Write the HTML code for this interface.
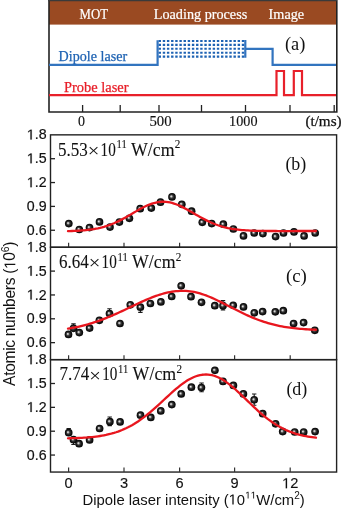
<!DOCTYPE html>
<html><head><meta charset="utf-8"><style>
html,body{margin:0;padding:0;background:#fff;}
body{width:342px;height:508px;overflow:hidden;font-family:"Liberation Sans",sans-serif;}
svg{display:block;will-change:transform;}
</style></head><body>
<svg width="342" height="508" viewBox="0 0 342 508">
<rect x="49" y="1" width="287.5" height="23.6" fill="#9a4a22"/>
<path d="M49.0 0 V112.0 H336.8 V0" fill="none" stroke="#222" stroke-width="1.6"/>
<line x1="48" y1="0.6" x2="337" y2="0.6" stroke="#3a3a3a" stroke-width="1.3"/>
<line x1="82.6" y1="112.0" x2="82.6" y2="105.0" stroke="#222" stroke-width="1.3"/>
<line x1="120.2" y1="112.0" x2="120.2" y2="105.0" stroke="#222" stroke-width="1.3"/>
<line x1="159.0" y1="112.0" x2="159.0" y2="105.0" stroke="#222" stroke-width="1.3"/>
<line x1="201.5" y1="112.0" x2="201.5" y2="105.0" stroke="#222" stroke-width="1.3"/>
<line x1="245.5" y1="112.0" x2="245.5" y2="105.0" stroke="#222" stroke-width="1.3"/>
<line x1="290.0" y1="112.0" x2="290.0" y2="105.0" stroke="#222" stroke-width="1.3"/>
<line x1="334.2" y1="112.0" x2="334.2" y2="105.0" stroke="#222" stroke-width="1.3"/>
<g font-family="Liberation Serif" font-size="14.6" fill="#fff" stroke="#fff" stroke-width="0.2"><text x="79.6" y="19.2" textLength="28.4" lengthAdjust="spacingAndGlyphs">MOT</text><text x="153.8" y="19.2" textLength="93.4" lengthAdjust="spacingAndGlyphs">Loading process</text><text x="268.6" y="19.2" textLength="35.6" lengthAdjust="spacingAndGlyphs">Image</text></g>
<path d="M49 64.8 H157.6 V40.2 M245.3 40 V57.8 M245.3 48.8 H272.6 V64.8 H336" fill="none" stroke="#3274bf" stroke-width="2.2"/>
<path d="M158.60 39.95h2.4v2.1h-2.4zM162.76 39.95h2.4v2.1h-2.4zM166.92 39.95h2.4v2.1h-2.4zM171.08 39.95h2.4v2.1h-2.4zM175.24 39.95h2.4v2.1h-2.4zM179.40 39.95h2.4v2.1h-2.4zM183.56 39.95h2.4v2.1h-2.4zM187.72 39.95h2.4v2.1h-2.4zM191.88 39.95h2.4v2.1h-2.4zM196.04 39.95h2.4v2.1h-2.4zM200.20 39.95h2.4v2.1h-2.4zM204.36 39.95h2.4v2.1h-2.4zM208.52 39.95h2.4v2.1h-2.4zM212.68 39.95h2.4v2.1h-2.4zM216.84 39.95h2.4v2.1h-2.4zM221.00 39.95h2.4v2.1h-2.4zM225.16 39.95h2.4v2.1h-2.4zM229.32 39.95h2.4v2.1h-2.4zM233.48 39.95h2.4v2.1h-2.4zM237.64 39.95h2.4v2.1h-2.4zM241.80 39.95h2.4v2.1h-2.4zM158.60 43.85h2.4v2.1h-2.4zM162.76 43.85h2.4v2.1h-2.4zM166.92 43.85h2.4v2.1h-2.4zM171.08 43.85h2.4v2.1h-2.4zM175.24 43.85h2.4v2.1h-2.4zM179.40 43.85h2.4v2.1h-2.4zM183.56 43.85h2.4v2.1h-2.4zM187.72 43.85h2.4v2.1h-2.4zM191.88 43.85h2.4v2.1h-2.4zM196.04 43.85h2.4v2.1h-2.4zM200.20 43.85h2.4v2.1h-2.4zM204.36 43.85h2.4v2.1h-2.4zM208.52 43.85h2.4v2.1h-2.4zM212.68 43.85h2.4v2.1h-2.4zM216.84 43.85h2.4v2.1h-2.4zM221.00 43.85h2.4v2.1h-2.4zM225.16 43.85h2.4v2.1h-2.4zM229.32 43.85h2.4v2.1h-2.4zM233.48 43.85h2.4v2.1h-2.4zM237.64 43.85h2.4v2.1h-2.4zM241.80 43.85h2.4v2.1h-2.4zM158.60 47.75h2.4v2.1h-2.4zM162.76 47.75h2.4v2.1h-2.4zM166.92 47.75h2.4v2.1h-2.4zM171.08 47.75h2.4v2.1h-2.4zM175.24 47.75h2.4v2.1h-2.4zM179.40 47.75h2.4v2.1h-2.4zM183.56 47.75h2.4v2.1h-2.4zM187.72 47.75h2.4v2.1h-2.4zM191.88 47.75h2.4v2.1h-2.4zM196.04 47.75h2.4v2.1h-2.4zM200.20 47.75h2.4v2.1h-2.4zM204.36 47.75h2.4v2.1h-2.4zM208.52 47.75h2.4v2.1h-2.4zM212.68 47.75h2.4v2.1h-2.4zM216.84 47.75h2.4v2.1h-2.4zM221.00 47.75h2.4v2.1h-2.4zM225.16 47.75h2.4v2.1h-2.4zM229.32 47.75h2.4v2.1h-2.4zM233.48 47.75h2.4v2.1h-2.4zM237.64 47.75h2.4v2.1h-2.4zM241.80 47.75h2.4v2.1h-2.4zM158.60 51.65h2.4v2.1h-2.4zM162.76 51.65h2.4v2.1h-2.4zM166.92 51.65h2.4v2.1h-2.4zM171.08 51.65h2.4v2.1h-2.4zM175.24 51.65h2.4v2.1h-2.4zM179.40 51.65h2.4v2.1h-2.4zM183.56 51.65h2.4v2.1h-2.4zM187.72 51.65h2.4v2.1h-2.4zM191.88 51.65h2.4v2.1h-2.4zM196.04 51.65h2.4v2.1h-2.4zM200.20 51.65h2.4v2.1h-2.4zM204.36 51.65h2.4v2.1h-2.4zM208.52 51.65h2.4v2.1h-2.4zM212.68 51.65h2.4v2.1h-2.4zM216.84 51.65h2.4v2.1h-2.4zM221.00 51.65h2.4v2.1h-2.4zM225.16 51.65h2.4v2.1h-2.4zM229.32 51.65h2.4v2.1h-2.4zM233.48 51.65h2.4v2.1h-2.4zM237.64 51.65h2.4v2.1h-2.4zM241.80 51.65h2.4v2.1h-2.4zM158.60 55.55h2.4v2.1h-2.4zM162.76 55.55h2.4v2.1h-2.4zM166.92 55.55h2.4v2.1h-2.4zM171.08 55.55h2.4v2.1h-2.4zM175.24 55.55h2.4v2.1h-2.4zM179.40 55.55h2.4v2.1h-2.4zM183.56 55.55h2.4v2.1h-2.4zM187.72 55.55h2.4v2.1h-2.4zM191.88 55.55h2.4v2.1h-2.4zM196.04 55.55h2.4v2.1h-2.4zM200.20 55.55h2.4v2.1h-2.4zM204.36 55.55h2.4v2.1h-2.4zM208.52 55.55h2.4v2.1h-2.4zM212.68 55.55h2.4v2.1h-2.4zM216.84 55.55h2.4v2.1h-2.4zM221.00 55.55h2.4v2.1h-2.4zM225.16 55.55h2.4v2.1h-2.4zM229.32 55.55h2.4v2.1h-2.4zM233.48 55.55h2.4v2.1h-2.4zM237.64 55.55h2.4v2.1h-2.4zM241.80 55.55h2.4v2.1h-2.4z" fill="#1d62b3"/>
<path d="M49 95.1 H276.5 V71 H284 V95.1 H293.8 V71 H302 V95.1 H336" fill="none" stroke="#e8202a" stroke-width="2.2"/>
<text x="58.6" y="60.6" font-family="Liberation Serif" font-size="14" fill="#1f63b3" stroke="#1f63b3" stroke-width="0.25" textLength="68.5" lengthAdjust="spacingAndGlyphs">Dipole laser</text>
<text x="64" y="91.9" font-family="Liberation Serif" font-size="14" fill="#e8202a" stroke="#e8202a" stroke-width="0.25" textLength="64.5" lengthAdjust="spacingAndGlyphs">Probe laser</text>
<text x="284.9" y="49.7" font-family="Liberation Serif" font-size="19.4" fill="#111" textLength="20.4" lengthAdjust="spacingAndGlyphs">(a)</text>
<g font-family="Liberation Serif" font-size="14.4" fill="#111" stroke="#111" stroke-width="0.15" text-anchor="middle"><text x="81.5" y="125.6" textLength="7.0" lengthAdjust="spacingAndGlyphs">0</text><text x="160.5" y="125.6" textLength="22.2" lengthAdjust="spacingAndGlyphs">500</text><text x="243.3" y="125.6" textLength="28.4" lengthAdjust="spacingAndGlyphs">1000</text></g>
<text x="305.4" y="125.6" font-family="Liberation Serif" font-size="14" fill="#111" stroke="#111" stroke-width="0.25" textLength="36.2" lengthAdjust="spacingAndGlyphs">(t/ms)</text>
<defs><radialGradient id="ball" cx="0.5" cy="0.5" r="0.5" fx="0.38" fy="0.42"><stop offset="0" stop-color="#f4f4f4"/><stop offset="0.18" stop-color="#b8b8b8"/><stop offset="0.42" stop-color="#3c3c3c"/><stop offset="0.72" stop-color="#141414"/><stop offset="1" stop-color="#050505"/></radialGradient></defs>
<rect x="50.5" y="134.85" width="286.1" height="112.4" fill="none" stroke="#222" stroke-width="1.4"/>
<line x1="50.5" y1="158.70" x2="55.0" y2="158.70" stroke="#222" stroke-width="1.3"/>
<line x1="50.5" y1="182.55" x2="55.0" y2="182.55" stroke="#222" stroke-width="1.3"/>
<line x1="50.5" y1="206.40" x2="55.0" y2="206.40" stroke="#222" stroke-width="1.3"/>
<line x1="50.5" y1="230.25" x2="55.0" y2="230.25" stroke="#222" stroke-width="1.3"/>
<line x1="68.6" y1="247.25" x2="68.6" y2="242.75" stroke="#333" stroke-width="1.2"/>
<line x1="124.0" y1="247.25" x2="124.0" y2="242.75" stroke="#333" stroke-width="1.2"/>
<line x1="179.6" y1="247.25" x2="179.6" y2="242.75" stroke="#333" stroke-width="1.2"/>
<line x1="234.6" y1="247.25" x2="234.6" y2="242.75" stroke="#333" stroke-width="1.2"/>
<line x1="290.2" y1="247.25" x2="290.2" y2="242.75" stroke="#333" stroke-width="1.2"/>
<g font-family="Liberation Sans" font-size="14.2" fill="#111" stroke="#111" stroke-width="0.2" text-anchor="end">
<text class="s1" x="46.6" y="139.45"> .8</text>
<text class="s1" x="46.6" y="163.30"> .5</text>
<text class="s1" x="46.6" y="187.15"> .2</text>
<text class="s1" x="46.6" y="211.00">0.9</text>
<text class="s1" x="46.6" y="234.85">0.6</text>
</g>
<circle cx="68.8" cy="223.6" r="3.85" fill="url(#ball)"/>
<circle cx="79.3" cy="229.5" r="3.85" fill="url(#ball)"/>
<circle cx="89.5" cy="227.6" r="3.85" fill="url(#ball)"/>
<circle cx="99.5" cy="221.9" r="3.85" fill="url(#ball)"/>
<circle cx="110.0" cy="227.1" r="3.85" fill="url(#ball)"/>
<circle cx="119.4" cy="222.1" r="3.85" fill="url(#ball)"/>
<circle cx="129.4" cy="218.3" r="3.85" fill="url(#ball)"/>
<circle cx="140.2" cy="208.7" r="3.85" fill="url(#ball)"/>
<circle cx="151.3" cy="208.1" r="3.85" fill="url(#ball)"/>
<circle cx="160.5" cy="202.2" r="3.85" fill="url(#ball)"/>
<circle cx="172.0" cy="196.9" r="3.85" fill="url(#ball)"/>
<circle cx="181.8" cy="204.3" r="3.85" fill="url(#ball)"/>
<circle cx="191.6" cy="211.2" r="3.85" fill="url(#ball)"/>
<circle cx="202.3" cy="222.3" r="3.85" fill="url(#ball)"/>
<circle cx="211.7" cy="223.6" r="3.85" fill="url(#ball)"/>
<circle cx="223.3" cy="224.2" r="3.85" fill="url(#ball)"/>
<circle cx="233.4" cy="229.0" r="3.85" fill="url(#ball)"/>
<circle cx="243.5" cy="235.9" r="3.85" fill="url(#ball)"/>
<circle cx="254.2" cy="233.0" r="3.85" fill="url(#ball)"/>
<circle cx="262.9" cy="233.6" r="3.85" fill="url(#ball)"/>
<circle cx="275.6" cy="236.6" r="3.85" fill="url(#ball)"/>
<circle cx="283.5" cy="233.0" r="3.85" fill="url(#ball)"/>
<circle cx="294.0" cy="231.9" r="3.85" fill="url(#ball)"/>
<circle cx="304.1" cy="235.9" r="3.85" fill="url(#ball)"/>
<circle cx="315.2" cy="233.0" r="3.85" fill="url(#ball)"/>
<path d="M68.0 231.12 L70.0 231.06 L72.0 231.00 L74.0 230.92 L76.0 230.84 L78.0 230.73 L80.0 230.61 L82.0 230.47 L84.0 230.30 L86.0 230.11 L88.0 229.90 L90.0 229.65 L92.0 229.36 L94.0 229.04 L96.0 228.68 L98.0 228.28 L100.0 227.83 L102.0 227.33 L104.0 226.78 L106.0 226.18 L108.0 225.52 L110.0 224.81 L112.0 224.04 L114.0 223.21 L116.0 222.32 L118.0 221.39 L120.0 220.40 L122.0 219.37 L124.0 218.29 L126.0 217.18 L128.0 216.05 L130.0 214.88 L132.0 213.71 L134.0 212.54 L136.0 211.37 L138.0 210.22 L140.0 209.10 L142.0 208.02 L144.0 206.99 L146.0 206.03 L148.0 205.14 L150.0 204.33 L152.0 203.62 L154.0 203.02 L156.0 202.52 L158.0 202.14 L160.0 201.88 L162.0 201.75 L164.0 201.74 L166.0 201.86 L168.0 202.11 L170.0 202.47 L172.0 202.95 L174.0 203.54 L176.0 204.24 L178.0 205.02 L180.0 205.90 L182.0 206.85 L184.0 207.86 L186.0 208.92 L188.0 210.03 L190.0 211.17 L192.0 212.32 L194.0 213.49 L196.0 214.65 L198.0 215.80 L200.0 216.94 L202.0 218.04 L204.0 219.11 L206.0 220.14 L208.0 221.12 L210.0 222.06 L212.0 222.94 L214.0 223.77 L216.0 224.54 L218.0 225.25 L220.0 225.91 L222.0 226.52 L224.0 227.07 L226.0 227.57 L228.0 228.02 L230.0 228.42 L232.0 228.79 L234.0 229.11 L236.0 229.39 L238.0 229.64 L240.0 229.85 L242.0 230.04 L244.0 230.21 L246.0 230.35 L248.0 230.47 L250.0 230.57 L252.0 230.66 L254.0 230.73 L256.0 230.79 L258.0 230.84 L260.0 230.88 L262.0 230.92 L264.0 230.94 L266.0 230.97 L268.0 230.98 L270.0 231.00 L272.0 231.01 L274.0 231.02 L276.0 231.02 L278.0 231.03 L280.0 231.03 L282.0 231.03 L284.0 231.03 L286.0 231.03 L288.0 231.03 L290.0 231.03 L292.0 231.03 L294.0 231.03 L296.0 231.02 L298.0 231.02 L300.0 231.02 L302.0 231.02 L304.0 231.01 L306.0 231.01 L308.0 231.01 L310.0 231.01 L312.0 231.00 L314.0 231.00 L316.0 231.00" fill="none" stroke="#e8161e" stroke-width="2.3" stroke-linecap="round" stroke-linejoin="round"/>
<g font-family="Liberation Serif" fill="#111" stroke="#111" stroke-width="0.1"><text x="58.0" y="155.50" font-size="18.3" textLength="29.8" lengthAdjust="spacingAndGlyphs">5.53</text><text x="87.7" y="156.80" font-size="19" textLength="11.6" lengthAdjust="spacingAndGlyphs" stroke-width="0">×</text><text x="100.6" y="155.50" font-size="18.3" textLength="15.2" lengthAdjust="spacingAndGlyphs">10</text><text x="116.5" y="148.20" font-size="12.4" textLength="10.2" lengthAdjust="spacingAndGlyphs">11</text><text x="131.0" y="155.50" font-size="18.3" textLength="43.6" lengthAdjust="spacingAndGlyphs">W/cm</text><text x="174.8" y="148.20" font-size="12.4" textLength="5.6" lengthAdjust="spacingAndGlyphs">2</text></g>
<text x="285.4" y="170.1" font-family="Liberation Serif" font-size="19.4" fill="#111" textLength="20.9" lengthAdjust="spacingAndGlyphs">(b)</text>
<rect x="50.5" y="247.25" width="286.1" height="112.4" fill="none" stroke="#222" stroke-width="1.4"/>
<line x1="50.5" y1="271.10" x2="55.0" y2="271.10" stroke="#222" stroke-width="1.3"/>
<line x1="50.5" y1="294.95" x2="55.0" y2="294.95" stroke="#222" stroke-width="1.3"/>
<line x1="50.5" y1="318.80" x2="55.0" y2="318.80" stroke="#222" stroke-width="1.3"/>
<line x1="50.5" y1="342.65" x2="55.0" y2="342.65" stroke="#222" stroke-width="1.3"/>
<line x1="68.6" y1="359.65" x2="68.6" y2="355.15" stroke="#333" stroke-width="1.2"/>
<line x1="124.0" y1="359.65" x2="124.0" y2="355.15" stroke="#333" stroke-width="1.2"/>
<line x1="179.6" y1="359.65" x2="179.6" y2="355.15" stroke="#333" stroke-width="1.2"/>
<line x1="234.6" y1="359.65" x2="234.6" y2="355.15" stroke="#333" stroke-width="1.2"/>
<line x1="290.2" y1="359.65" x2="290.2" y2="355.15" stroke="#333" stroke-width="1.2"/>
<g font-family="Liberation Sans" font-size="14.2" fill="#111" stroke="#111" stroke-width="0.2" text-anchor="end">
<text class="s1" x="46.6" y="251.85"> .8</text>
<text class="s1" x="46.6" y="275.70"> .5</text>
<text class="s1" x="46.6" y="299.55"> .2</text>
<text class="s1" x="46.6" y="323.40">0.9</text>
<text class="s1" x="46.6" y="347.25">0.6</text>
</g>
<path d="M109.5 308.8 V313.3 M107.3 308.8 H111.7 M107.3 313.3 H111.7" stroke="#1a1a1a" stroke-width="1.1" fill="none"/>
<path d="M73.5 323.9 V328.0 M71.3 323.9 H75.7 M71.3 328.0 H75.7" stroke="#1a1a1a" stroke-width="1.1" fill="none"/>
<path d="M140.4 306.9 V312.4 M138.20000000000002 306.9 H142.6 M138.20000000000002 312.4 H142.6" stroke="#1a1a1a" stroke-width="1.1" fill="none"/>
<path d="M223.0 300.6 V309.9 M220.8 300.6 H225.2 M220.8 309.9 H225.2" stroke="#1a1a1a" stroke-width="1.1" fill="none"/>
<circle cx="73.5" cy="328.3" r="3.85" fill="url(#ball)"/>
<circle cx="68.5" cy="334.4" r="3.85" fill="url(#ball)"/>
<circle cx="79.3" cy="332.6" r="3.85" fill="url(#ball)"/>
<circle cx="89.6" cy="328.1" r="3.85" fill="url(#ball)"/>
<circle cx="99.4" cy="320.3" r="3.85" fill="url(#ball)"/>
<circle cx="109.5" cy="313.6" r="3.85" fill="url(#ball)"/>
<circle cx="120.0" cy="323.5" r="3.85" fill="url(#ball)"/>
<circle cx="130.3" cy="304.8" r="3.85" fill="url(#ball)"/>
<circle cx="140.4" cy="307.2" r="3.85" fill="url(#ball)"/>
<circle cx="150.4" cy="303.5" r="3.85" fill="url(#ball)"/>
<circle cx="160.9" cy="301.9" r="3.85" fill="url(#ball)"/>
<circle cx="171.7" cy="296.5" r="3.85" fill="url(#ball)"/>
<circle cx="181.2" cy="285.8" r="3.85" fill="url(#ball)"/>
<circle cx="191.0" cy="296.7" r="3.85" fill="url(#ball)"/>
<circle cx="201.5" cy="302.3" r="3.85" fill="url(#ball)"/>
<circle cx="214.8" cy="305.7" r="3.85" fill="url(#ball)"/>
<circle cx="223.0" cy="305.7" r="3.85" fill="url(#ball)"/>
<circle cx="233.2" cy="305.3" r="3.85" fill="url(#ball)"/>
<circle cx="243.5" cy="306.9" r="3.85" fill="url(#ball)"/>
<circle cx="254.3" cy="312.8" r="3.85" fill="url(#ball)"/>
<circle cx="262.6" cy="311.6" r="3.85" fill="url(#ball)"/>
<circle cx="275.3" cy="311.8" r="3.85" fill="url(#ball)"/>
<circle cx="283.3" cy="310.7" r="3.85" fill="url(#ball)"/>
<circle cx="293.6" cy="323.5" r="3.85" fill="url(#ball)"/>
<circle cx="303.6" cy="322.6" r="3.85" fill="url(#ball)"/>
<circle cx="314.8" cy="330.3" r="3.85" fill="url(#ball)"/>
<path d="M68.0 328.67 L70.0 328.33 L72.0 327.97 L74.0 327.59 L76.0 327.19 L78.0 326.76 L80.0 326.31 L82.0 325.84 L84.0 325.34 L86.0 324.81 L88.0 324.26 L90.0 323.68 L92.0 323.07 L94.0 322.44 L96.0 321.78 L98.0 321.10 L100.0 320.39 L102.0 319.65 L104.0 318.89 L106.0 318.11 L108.0 317.30 L110.0 316.47 L112.0 315.62 L114.0 314.75 L116.0 313.86 L118.0 312.96 L120.0 312.04 L122.0 311.11 L124.0 310.17 L126.0 309.22 L128.0 308.27 L130.0 307.31 L132.0 306.35 L134.0 305.40 L136.0 304.45 L138.0 303.51 L140.0 302.58 L142.0 301.67 L144.0 300.77 L146.0 299.89 L148.0 299.04 L150.0 298.22 L152.0 297.42 L154.0 296.66 L156.0 295.93 L158.0 295.25 L160.0 294.60 L162.0 294.00 L164.0 293.45 L166.0 292.94 L168.0 292.49 L170.0 292.08 L172.0 291.74 L174.0 291.45 L176.0 291.21 L178.0 291.03 L180.0 290.92 L182.0 290.86 L184.0 290.86 L186.0 290.94 L188.0 291.09 L190.0 291.31 L192.0 291.60 L194.0 291.96 L196.0 292.39 L198.0 292.89 L200.0 293.44 L202.0 294.06 L204.0 294.73 L206.0 295.45 L208.0 296.22 L210.0 297.04 L212.0 297.90 L214.0 298.79 L216.0 299.71 L218.0 300.67 L220.0 301.65 L222.0 302.64 L224.0 303.66 L226.0 304.68 L228.0 305.71 L230.0 306.74 L232.0 307.77 L234.0 308.80 L236.0 309.82 L238.0 310.83 L240.0 311.82 L242.0 312.80 L244.0 313.75 L246.0 314.69 L248.0 315.60 L250.0 316.48 L252.0 317.34 L254.0 318.16 L256.0 318.96 L258.0 319.73 L260.0 320.46 L262.0 321.16 L264.0 321.83 L266.0 322.46 L268.0 323.06 L270.0 323.63 L272.0 324.17 L274.0 324.68 L276.0 325.15 L278.0 325.60 L280.0 326.02 L282.0 326.40 L284.0 326.76 L286.0 327.10 L288.0 327.41 L290.0 327.69 L292.0 327.96 L294.0 328.20 L296.0 328.42 L298.0 328.62 L300.0 328.80 L302.0 328.97 L304.0 329.12 L306.0 329.26 L308.0 329.38 L310.0 329.49 L312.0 329.58 L314.0 329.67 L316.0 329.75" fill="none" stroke="#e8161e" stroke-width="2.3" stroke-linecap="round" stroke-linejoin="round"/>
<g font-family="Liberation Serif" fill="#111" stroke="#111" stroke-width="0.1"><text x="59.0" y="267.90" font-size="18.3" textLength="29.8" lengthAdjust="spacingAndGlyphs">6.64</text><text x="88.7" y="269.20" font-size="19" textLength="11.6" lengthAdjust="spacingAndGlyphs" stroke-width="0">×</text><text x="101.6" y="267.90" font-size="18.3" textLength="15.2" lengthAdjust="spacingAndGlyphs">10</text><text x="117.5" y="260.60" font-size="12.4" textLength="10.2" lengthAdjust="spacingAndGlyphs">11</text><text x="132.0" y="267.90" font-size="18.3" textLength="43.6" lengthAdjust="spacingAndGlyphs">W/cm</text><text x="175.8" y="260.60" font-size="12.4" textLength="5.6" lengthAdjust="spacingAndGlyphs">2</text></g>
<text x="285.9" y="282.4" font-family="Liberation Serif" font-size="19.4" fill="#111" textLength="20.9" lengthAdjust="spacingAndGlyphs">(c)</text>
<rect x="50.5" y="359.65" width="286.1" height="112.4" fill="none" stroke="#222" stroke-width="1.4"/>
<line x1="50.5" y1="383.50" x2="55.0" y2="383.50" stroke="#222" stroke-width="1.3"/>
<line x1="50.5" y1="407.35" x2="55.0" y2="407.35" stroke="#222" stroke-width="1.3"/>
<line x1="50.5" y1="431.20" x2="55.0" y2="431.20" stroke="#222" stroke-width="1.3"/>
<line x1="50.5" y1="455.05" x2="55.0" y2="455.05" stroke="#222" stroke-width="1.3"/>
<line x1="68.6" y1="472.04999999999995" x2="68.6" y2="467.55" stroke="#333" stroke-width="1.2"/>
<line x1="124.0" y1="472.04999999999995" x2="124.0" y2="467.55" stroke="#333" stroke-width="1.2"/>
<line x1="179.6" y1="472.04999999999995" x2="179.6" y2="467.55" stroke="#333" stroke-width="1.2"/>
<line x1="234.6" y1="472.04999999999995" x2="234.6" y2="467.55" stroke="#333" stroke-width="1.2"/>
<line x1="290.2" y1="472.04999999999995" x2="290.2" y2="467.55" stroke="#333" stroke-width="1.2"/>
<g font-family="Liberation Sans" font-size="14.2" fill="#111" stroke="#111" stroke-width="0.2" text-anchor="end">
<text class="s1" x="46.6" y="364.25"> .8</text>
<text class="s1" x="46.6" y="388.10"> .5</text>
<text class="s1" x="46.6" y="411.95"> .2</text>
<text class="s1" x="46.6" y="435.80">0.9</text>
<text class="s1" x="46.6" y="459.65">0.6</text>
</g>
<path d="M68.7 428.5 V432.4 M66.5 428.5 H70.9 M66.5 432.4 H70.9" stroke="#1a1a1a" stroke-width="1.1" fill="none"/>
<path d="M73.5 439.4 V444.5 M71.3 439.4 H75.7 M71.3 444.5 H75.7" stroke="#1a1a1a" stroke-width="1.1" fill="none"/>
<path d="M254.2 394.0 V405.3 M252.0 394.0 H256.4 M252.0 405.3 H256.4" stroke="#1a1a1a" stroke-width="1.1" fill="none"/>
<path d="M201.6 383.0 V391.7 M199.4 383.0 H203.79999999999998 M199.4 391.7 H203.79999999999998" stroke="#1a1a1a" stroke-width="1.1" fill="none"/>
<path d="M109.7 417.0 V425.6 M107.5 417.0 H111.9 M107.5 425.6 H111.9" stroke="#1a1a1a" stroke-width="1.1" fill="none"/>
<circle cx="68.7" cy="432.7" r="3.85" fill="url(#ball)"/>
<circle cx="73.5" cy="439.7" r="3.85" fill="url(#ball)"/>
<circle cx="79.1" cy="443.7" r="3.85" fill="url(#ball)"/>
<circle cx="89.6" cy="439.9" r="3.85" fill="url(#ball)"/>
<circle cx="99.6" cy="428.5" r="3.85" fill="url(#ball)"/>
<circle cx="109.9" cy="421.7" r="3.85" fill="url(#ball)"/>
<circle cx="120.1" cy="421.9" r="3.85" fill="url(#ball)"/>
<circle cx="140.5" cy="415.2" r="3.85" fill="url(#ball)"/>
<circle cx="150.8" cy="417.4" r="3.85" fill="url(#ball)"/>
<circle cx="160.8" cy="410.9" r="3.85" fill="url(#ball)"/>
<circle cx="171.8" cy="404.6" r="3.85" fill="url(#ball)"/>
<circle cx="181.2" cy="393.9" r="3.85" fill="url(#ball)"/>
<circle cx="191.4" cy="387.2" r="3.85" fill="url(#ball)"/>
<circle cx="201.4" cy="387.6" r="3.85" fill="url(#ball)"/>
<circle cx="214.9" cy="370.3" r="3.85" fill="url(#ball)"/>
<circle cx="223.0" cy="381.4" r="3.85" fill="url(#ball)"/>
<circle cx="233.4" cy="385.4" r="3.85" fill="url(#ball)"/>
<circle cx="243.4" cy="393.9" r="3.85" fill="url(#ball)"/>
<circle cx="254.2" cy="399.8" r="3.85" fill="url(#ball)"/>
<circle cx="262.7" cy="413.7" r="3.85" fill="url(#ball)"/>
<circle cx="275.6" cy="423.8" r="3.85" fill="url(#ball)"/>
<circle cx="282.7" cy="431.6" r="3.85" fill="url(#ball)"/>
<circle cx="294.7" cy="432.0" r="3.85" fill="url(#ball)"/>
<circle cx="303.7" cy="432.0" r="3.85" fill="url(#ball)"/>
<circle cx="315.1" cy="431.6" r="3.85" fill="url(#ball)"/>
<path d="M68.0 438.28 L70.0 438.24 L72.0 438.19 L74.0 438.13 L76.0 438.06 L78.0 437.98 L80.0 437.90 L82.0 437.79 L84.0 437.68 L86.0 437.54 L88.0 437.39 L90.0 437.22 L92.0 437.03 L94.0 436.82 L96.0 436.58 L98.0 436.31 L100.0 436.01 L102.0 435.68 L104.0 435.32 L106.0 434.92 L108.0 434.47 L110.0 433.99 L112.0 433.46 L114.0 432.88 L116.0 432.25 L118.0 431.57 L120.0 430.83 L122.0 430.04 L124.0 429.18 L126.0 428.27 L128.0 427.29 L130.0 426.25 L132.0 425.14 L134.0 423.97 L136.0 422.73 L138.0 421.43 L140.0 420.06 L142.0 418.63 L144.0 417.15 L146.0 415.60 L148.0 414.00 L150.0 412.34 L152.0 410.64 L154.0 408.90 L156.0 407.12 L158.0 405.31 L160.0 403.48 L162.0 401.63 L164.0 399.77 L166.0 397.91 L168.0 396.06 L170.0 394.23 L172.0 392.43 L174.0 390.66 L176.0 388.94 L178.0 387.27 L180.0 385.67 L182.0 384.14 L184.0 382.70 L186.0 381.35 L188.0 380.10 L190.0 378.95 L192.0 377.93 L194.0 377.03 L196.0 376.25 L198.0 375.62 L200.0 375.12 L202.0 374.76 L204.0 374.54 L206.0 374.48 L208.0 374.56 L210.0 374.80 L212.0 375.20 L214.0 375.74 L216.0 376.44 L218.0 377.27 L220.0 378.25 L222.0 379.35 L224.0 380.57 L226.0 381.91 L228.0 383.36 L230.0 384.90 L232.0 386.53 L234.0 388.23 L236.0 390.00 L238.0 391.82 L240.0 393.68 L242.0 395.58 L244.0 397.50 L246.0 399.43 L248.0 401.36 L250.0 403.29 L252.0 405.21 L254.0 407.10 L256.0 408.95 L258.0 410.78 L260.0 412.55 L262.0 414.28 L264.0 415.95 L266.0 417.56 L268.0 419.12 L270.0 420.60 L272.0 422.02 L274.0 423.37 L276.0 424.65 L278.0 425.86 L280.0 427.00 L282.0 428.08 L284.0 429.08 L286.0 430.02 L288.0 430.89 L290.0 431.70 L292.0 432.45 L294.0 433.14 L296.0 433.78 L298.0 434.36 L300.0 434.90 L302.0 435.38 L304.0 435.83 L306.0 436.23 L308.0 436.59 L310.0 436.92 L312.0 437.22 L314.0 437.48 L316.0 437.72" fill="none" stroke="#e8161e" stroke-width="2.3" stroke-linecap="round" stroke-linejoin="round"/>
<g font-family="Liberation Serif" fill="#111" stroke="#111" stroke-width="0.1"><text x="59.6" y="380.30" font-size="18.3" textLength="29.8" lengthAdjust="spacingAndGlyphs">7.74</text><text x="89.3" y="381.60" font-size="19" textLength="11.6" lengthAdjust="spacingAndGlyphs" stroke-width="0">×</text><text x="102.2" y="380.30" font-size="18.3" textLength="15.2" lengthAdjust="spacingAndGlyphs">10</text><text x="118.1" y="373.00" font-size="12.4" textLength="10.2" lengthAdjust="spacingAndGlyphs">11</text><text x="132.6" y="380.30" font-size="18.3" textLength="43.6" lengthAdjust="spacingAndGlyphs">W/cm</text><text x="176.4" y="373.00" font-size="12.4" textLength="5.6" lengthAdjust="spacingAndGlyphs">2</text></g>
<text x="286.4" y="394.8" font-family="Liberation Serif" font-size="19.4" fill="#111" textLength="20.9" lengthAdjust="spacingAndGlyphs">(d)</text>
<g font-family="Liberation Sans" font-size="14.6" fill="#111" stroke="#111" stroke-width="0.15" text-anchor="middle">
<text class="s1" x="68.6" y="488.3">0</text>
<text class="s1" x="124.0" y="488.3">3</text>
<text class="s1" x="179.6" y="488.3">6</text>
<text class="s1" x="234.6" y="488.3">9</text>
<text class="s1" x="290.2" y="488.3"> 2</text>
</g>
<text class="s1" x="82.6" y="504.6" font-family="Liberation Sans" font-size="14.85" fill="#111">Dipole laser intensity ( 0<tspan font-size="10" dy="-6">  </tspan><tspan dy="6">W/cm</tspan><tspan font-size="10" dy="-6">2</tspan><tspan dy="6">)</tspan></text>
<text class="s1" transform="translate(15.3 385.9) rotate(-90)" font-family="Liberation Sans" font-size="15.6" letter-spacing="-0.33" fill="#111">Atomic numbers ( 0<tspan font-size="10.5" dy="-6">6</tspan><tspan dy="6">)</tspan></text>
<path d="M515 0V1237L197 1010V1180L530 1409H696V0Z" transform=" translate(26.866 139.450) scale(0.006934 -0.006934)" fill="#111" stroke="#111" stroke-width="28.8"/>
<path d="M515 0V1237L197 1010V1180L530 1409H696V0Z" transform=" translate(26.866 163.300) scale(0.006934 -0.006934)" fill="#111" stroke="#111" stroke-width="28.8"/>
<path d="M515 0V1237L197 1010V1180L530 1409H696V0Z" transform=" translate(26.866 187.150) scale(0.006934 -0.006934)" fill="#111" stroke="#111" stroke-width="28.8"/>
<path d="M515 0V1237L197 1010V1180L530 1409H696V0Z" transform=" translate(26.866 251.850) scale(0.006934 -0.006934)" fill="#111" stroke="#111" stroke-width="28.8"/>
<path d="M515 0V1237L197 1010V1180L530 1409H696V0Z" transform=" translate(26.866 275.700) scale(0.006934 -0.006934)" fill="#111" stroke="#111" stroke-width="28.8"/>
<path d="M515 0V1237L197 1010V1180L530 1409H696V0Z" transform=" translate(26.866 299.550) scale(0.006934 -0.006934)" fill="#111" stroke="#111" stroke-width="28.8"/>
<path d="M515 0V1237L197 1010V1180L530 1409H696V0Z" transform=" translate(26.866 364.250) scale(0.006934 -0.006934)" fill="#111" stroke="#111" stroke-width="28.8"/>
<path d="M515 0V1237L197 1010V1180L530 1409H696V0Z" transform=" translate(26.866 388.100) scale(0.006934 -0.006934)" fill="#111" stroke="#111" stroke-width="28.8"/>
<path d="M515 0V1237L197 1010V1180L530 1409H696V0Z" transform=" translate(26.866 411.950) scale(0.006934 -0.006934)" fill="#111" stroke="#111" stroke-width="28.8"/>
<path d="M515 0V1237L197 1010V1180L530 1409H696V0Z" transform=" translate(282.083 488.300) scale(0.007129 -0.007129)" fill="#111" stroke="#111" stroke-width="21.0"/>
<path d="M515 0V1237L197 1010V1180L530 1409H696V0Z" transform=" translate(228.616 504.600) scale(0.007251 -0.007251)" fill="#111"/>
<path d="M515 0V1237L197 1010V1180L530 1409H696V0Z" transform=" translate(245.147 498.600) scale(0.004883 -0.004883)" fill="#111"/>
<path d="M515 0V1237L197 1010V1180L530 1409H696V0Z" transform=" translate(250.694 498.600) scale(0.004883 -0.004883)" fill="#111"/>
<path d="M515 0V1237L197 1010V1180L530 1409H696V0Z" transform="translate(15.3 385.9) rotate(-90) translate(116.891 0.000) scale(0.007617 -0.007617)" fill="#111"/>
</svg>
</body></html>
